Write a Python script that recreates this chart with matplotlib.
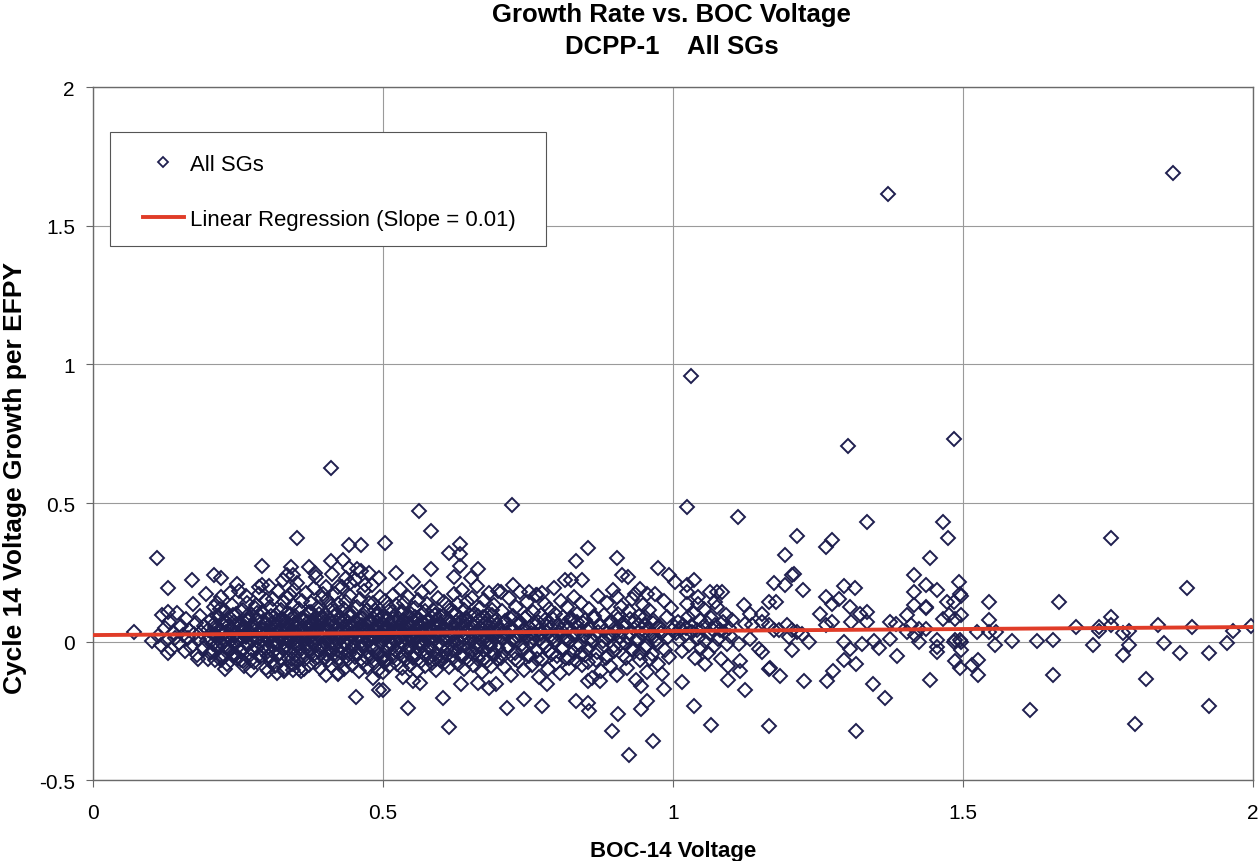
import numpy as np
import matplotlib
matplotlib.use("Agg")
import matplotlib.pyplot as plt
from matplotlib.lines import Line2D
from matplotlib.patches import Rectangle

plt.rcParams['font.family'] = ['Liberation Sans', 'DejaVu Sans']

# ---- data: (BOC-14 voltage, cycle 14 growth per EFPY) ----
# sparse left tail
seg_010_020 = [
    (0.112, 0.021), (0.118, -0.012), (0.124, 0.048), (0.127, 0.006), (0.131, 0.072), (0.134, -0.028),
    (0.138, 0.031), (0.141, 0.015), (0.145, 0.102), (0.148, -0.005), (0.152, 0.055), (0.155, 0.024),
    (0.158, -0.033), (0.161, 0.081), (0.163, 0.012), (0.166, 0.044), (0.169, -0.018), (0.172, 0.137),
    (0.174, 0.028), (0.177, 0.066), (0.179, -0.047), (0.182, 0.009), (0.185, 0.094), (0.187, 0.036),
    (0.189, -0.022), (0.192, 0.058), (0.194, 0.171), (0.196, 0.003), (0.198, 0.041), (0.199, -0.061),
]
seg_020_030 = [
    (0.201, 0.012), (0.202, -0.041), (0.204, 0.078), (0.205, 0.031), (0.207, -0.008), (0.208, 0.124),
    (0.210, 0.052), (0.211, -0.066), (0.213, 0.019), (0.214, 0.093), (0.216, -0.022), (0.217, 0.044),
    (0.219, 0.004), (0.220, 0.161), (0.222, -0.053), (0.223, 0.068), (0.225, 0.027), (0.226, -0.014),
    (0.228, 0.109), (0.229, 0.036), (0.231, -0.079), (0.232, 0.057), (0.234, 0.015), (0.235, 0.088),
    (0.237, -0.031), (0.238, 0.042), (0.240, 0.133), (0.241, -0.004), (0.243, 0.071), (0.244, 0.023),
    (0.246, -0.058), (0.247, 0.099), (0.249, 0.048), (0.250, -0.019), (0.252, 0.184), (0.253, 0.009),
    (0.255, 0.062), (0.256, -0.037), (0.258, 0.115), (0.259, 0.034), (0.261, -0.087), (0.262, 0.053),
    (0.264, 0.017), (0.265, 0.141), (0.267, -0.011), (0.268, 0.076), (0.270, 0.029), (0.271, -0.048),
    (0.273, 0.096), (0.274, 0.006), (0.276, 0.058), (0.277, -0.072), (0.279, 0.122), (0.280, 0.038),
    (0.282, -0.024), (0.283, 0.083), (0.285, 0.013), (0.286, 0.172), (0.288, -0.056), (0.289, 0.047),
    (0.291, 0.001), (0.292, 0.107), (0.294, -0.033), (0.295, 0.064), (0.297, 0.025), (0.298, -0.095),
    (0.299, 0.151), (0.213, 0.139), (0.227, -0.097), (0.248, 0.208), (0.263, 0.164), (0.287, 0.198),
    (0.236, 0.176), (0.272, -0.103), (0.219, 0.117), (0.258, -0.068), (0.281, 0.131), (0.242, -0.044),
    (0.266, 0.092), (0.293, 0.041),
]
seg_030_040 = [
    (0.300, 0.034), (0.301, -0.052), (0.302, 0.087), (0.303, 0.011), (0.304, -0.018), (0.305, 0.126),
    (0.306, 0.049), (0.307, -0.074), (0.308, 0.022), (0.309, 0.069), (0.310, -0.036), (0.311, 0.155),
    (0.312, 0.003), (0.313, 0.041), (0.314, -0.089), (0.315, 0.098), (0.316, 0.027), (0.317, -0.007),
    (0.318, 0.061), (0.319, 0.182), (0.320, -0.045), (0.321, 0.014), (0.322, 0.079), (0.323, -0.063),
    (0.324, 0.037), (0.325, 0.113), (0.326, 0.006), (0.327, -0.026), (0.328, 0.054), (0.329, 0.143),
    (0.330, -0.098), (0.331, 0.031), (0.332, 0.072), (0.333, -0.013), (0.334, 0.019), (0.335, 0.104),
    (0.336, -0.057), (0.337, 0.046), (0.338, 0.008), (0.339, 0.167), (0.340, -0.031), (0.341, 0.083),
    (0.342, 0.024), (0.343, -0.081), (0.344, 0.059), (0.345, 0.132), (0.346, -0.004), (0.347, 0.039),
    (0.348, -0.047), (0.349, 0.091), (0.350, 0.016), (0.351, 0.211), (0.352, -0.069), (0.353, 0.066),
    (0.354, 0.002), (0.355, 0.119), (0.356, -0.022), (0.357, 0.044), (0.358, 0.081), (0.359, -0.104),
    (0.360, 0.029), (0.361, 0.148), (0.362, -0.038), (0.363, 0.057), (0.364, 0.012), (0.365, 0.094),
    (0.366, -0.061), (0.367, 0.035), (0.368, 0.176), (0.369, -0.009), (0.370, 0.071), (0.371, 0.021),
    (0.372, -0.084), (0.373, 0.108), (0.374, 0.047), (0.375, -0.027), (0.376, 0.138), (0.377, 0.005),
    (0.378, 0.063), (0.379, -0.049), (0.380, 0.026), (0.381, 0.192), (0.382, -0.016), (0.383, 0.086),
    (0.384, 0.038), (0.385, -0.073), (0.386, 0.121), (0.387, 0.009), (0.388, 0.052), (0.389, -0.035),
    (0.390, 0.101), (0.391, 0.018), (0.392, -0.093), (0.393, 0.074), (0.394, 0.033), (0.395, 0.159),
    (0.396, -0.012), (0.397, 0.048), (0.398, -0.058), (0.399, 0.085), (0.304, 0.201), (0.327, 0.224),
    (0.318, -0.112), (0.346, 0.186), (0.363, -0.097), (0.385, 0.234), (0.397, 0.171), (0.334, 0.158),
]
seg_040_050 = [
    (0.400, 0.023), (0.401, -0.044), (0.402, 0.096), (0.403, 0.007), (0.404, 0.151), (0.405, -0.067),
    (0.406, 0.041), (0.407, 0.013), (0.408, -0.021), (0.409, 0.078), (0.410, 0.128), (0.411, -0.086),
    (0.412, 0.032), (0.413, 0.058), (0.414, -0.003), (0.415, 0.109), (0.416, 0.019), (0.417, -0.051),
    (0.418, 0.173), (0.419, 0.044), (0.420, -0.029), (0.421, 0.067), (0.422, 0.004), (0.423, 0.136),
    (0.424, -0.076), (0.425, 0.036), (0.426, 0.089), (0.427, -0.014), (0.428, 0.015), (0.429, 0.196),
    (0.430, -0.042), (0.431, 0.053), (0.432, 0.117), (0.433, -0.099), (0.434, 0.027), (0.435, 0.075),
    (0.436, -0.008), (0.437, 0.144), (0.438, 0.039), (0.439, -0.061), (0.440, 0.009), (0.441, 0.092),
    (0.442, -0.033), (0.443, 0.062), (0.444, 0.166), (0.445, 0.021), (0.446, -0.085), (0.447, 0.049),
    (0.448, 0.102), (0.449, -0.017), (0.450, 0.031), (0.451, 0.221), (0.452, -0.054), (0.453, 0.071),
    (0.454, 0.011), (0.455, 0.125), (0.456, -0.039), (0.457, 0.046), (0.458, -0.107), (0.459, 0.083),
    (0.460, 0.017), (0.461, 0.154), (0.462, -0.026), (0.463, 0.059), (0.464, 0.002), (0.465, 0.097),
    (0.466, -0.071), (0.467, 0.034), (0.468, 0.182), (0.469, -0.011), (0.470, 0.065), (0.471, 0.025),
    (0.472, -0.091), (0.473, 0.113), (0.474, 0.043), (0.475, -0.036), (0.476, 0.139), (0.477, 0.008),
    (0.478, 0.069), (0.479, -0.056), (0.480, 0.029), (0.481, 0.205), (0.482, -0.019), (0.483, 0.087),
    (0.484, 0.037), (0.485, -0.078), (0.486, 0.116), (0.487, 0.012), (0.488, 0.055), (0.489, -0.041),
    (0.490, 0.099), (0.491, 0.022), (0.492, -0.102), (0.493, 0.077), (0.494, 0.028), (0.495, 0.163),
    (0.496, -0.006), (0.497, 0.051), (0.498, -0.063), (0.499, 0.089), (0.412, 0.243), (0.437, 0.231),
    (0.456, 0.262), (0.423, -0.118), (0.476, 0.248), (0.494, 0.229), (0.443, 0.212),
]
seg_050_060 = [
    (0.500, 0.026), (0.501, -0.048), (0.502, 0.091), (0.503, 0.009), (0.504, 0.147), (0.505, -0.071),
    (0.506, 0.043), (0.507, 0.016), (0.508, -0.023), (0.509, 0.081), (0.510, 0.124), (0.511, -0.089),
    (0.512, 0.035), (0.513, 0.061), (0.514, -0.005), (0.515, 0.106), (0.516, 0.021), (0.517, -0.054),
    (0.518, 0.168), (0.519, 0.047), (0.520, -0.031), (0.521, 0.069), (0.522, 0.003), (0.523, 0.133),
    (0.524, -0.079), (0.525, 0.038), (0.526, 0.085), (0.527, -0.016), (0.528, 0.014), (0.529, 0.191),
    (0.530, -0.045), (0.531, 0.056), (0.532, 0.112), (0.533, -0.096), (0.534, 0.029), (0.535, 0.073),
    (0.536, -0.009), (0.537, 0.141), (0.538, 0.041), (0.539, -0.064), (0.540, 0.011), (0.541, 0.094),
    (0.542, -0.035), (0.543, 0.064), (0.544, 0.161), (0.545, 0.024), (0.546, -0.083), (0.547, 0.051),
    (0.548, 0.099), (0.549, -0.018), (0.550, 0.033), (0.551, 0.215), (0.552, -0.057), (0.553, 0.074),
    (0.554, 0.013), (0.555, 0.121), (0.556, -0.041), (0.557, 0.049), (0.558, -0.105), (0.559, 0.086),
    (0.560, 0.018), (0.561, 0.151), (0.562, -0.028), (0.563, 0.061), (0.564, 0.001), (0.565, 0.095),
    (0.566, -0.068), (0.567, 0.036), (0.568, 0.178), (0.569, -0.012), (0.570, 0.067), (0.571, 0.027),
    (0.572, -0.087), (0.573, 0.111), (0.574, 0.045), (0.575, -0.038), (0.576, 0.136), (0.577, 0.007),
    (0.578, 0.071), (0.579, -0.059), (0.580, 0.031), (0.581, 0.198), (0.582, -0.021), (0.583, 0.088),
    (0.584, 0.039), (0.585, -0.076), (0.586, 0.114), (0.587, 0.014), (0.588, 0.057), (0.589, -0.043),
    (0.590, 0.097), (0.591, 0.024), (0.592, -0.101), (0.593, 0.079), (0.594, 0.031), (0.595, 0.157),
    (0.596, -0.007), (0.597, 0.053), (0.598, -0.066), (0.599, 0.091),
]
seg_060_070 = [
    (0.601, 0.028), (0.602, -0.051), (0.603, 0.093), (0.604, 0.011), (0.606, 0.142), (0.607, -0.074),
    (0.608, 0.045), (0.609, 0.018), (0.610, -0.026), (0.612, 0.083), (0.613, 0.127), (0.614, -0.092),
    (0.615, 0.037), (0.616, 0.063), (0.618, -0.007), (0.619, 0.108), (0.620, 0.023), (0.621, -0.057),
    (0.622, 0.171), (0.624, 0.049), (0.625, -0.034), (0.626, 0.071), (0.627, 0.005), (0.628, 0.135),
    (0.630, -0.082), (0.631, 0.040), (0.632, 0.087), (0.633, -0.019), (0.634, 0.016), (0.636, 0.188),
    (0.637, -0.047), (0.638, 0.058), (0.639, 0.114), (0.640, -0.099), (0.642, 0.031), (0.643, 0.075),
    (0.644, -0.011), (0.645, 0.144), (0.646, 0.043), (0.648, -0.067), (0.649, 0.013), (0.650, 0.096),
    (0.651, -0.037), (0.652, 0.066), (0.654, 0.158), (0.655, 0.026), (0.656, -0.085), (0.657, 0.053),
    (0.658, 0.101), (0.660, -0.021), (0.661, 0.035), (0.662, 0.202), (0.663, -0.061), (0.664, 0.076),
    (0.666, 0.015), (0.667, 0.123), (0.668, -0.043), (0.669, 0.051), (0.670, -0.109), (0.672, 0.088),
    (0.673, 0.020), (0.674, 0.149), (0.675, -0.031), (0.676, 0.063), (0.678, 0.003), (0.679, 0.097),
    (0.680, -0.071), (0.681, 0.038), (0.682, 0.175), (0.684, -0.014), (0.685, 0.069), (0.686, 0.029),
    (0.687, -0.089), (0.688, 0.113), (0.690, 0.047), (0.691, -0.041), (0.692, 0.131), (0.693, 0.009),
    (0.694, 0.073), (0.696, -0.062), (0.697, 0.033), (0.698, 0.184), (0.699, -0.024),
]
seg_070_085 = [
    (0.701, 0.041), (0.703, -0.058), (0.705, 0.112), (0.707, 0.014), (0.709, -0.091), (0.711, 0.076),
    (0.713, 0.031), (0.715, -0.024), (0.717, 0.158), (0.719, 0.052), (0.721, -0.119), (0.723, 0.006),
    (0.725, 0.093), (0.727, -0.042), (0.729, 0.127), (0.731, 0.022), (0.733, -0.071), (0.735, 0.064),
    (0.737, 0.181), (0.739, -0.009), (0.741, 0.037), (0.743, -0.103), (0.745, 0.084), (0.747, 0.017),
    (0.749, 0.143), (0.751, -0.052), (0.753, 0.048), (0.755, 0.001), (0.757, -0.084), (0.759, 0.106),
    (0.761, 0.029), (0.763, 0.169), (0.765, -0.033), (0.767, 0.072), (0.769, -0.127), (0.771, 0.011),
    (0.773, 0.095), (0.775, -0.064), (0.777, 0.043), (0.779, 0.136), (0.781, -0.017), (0.783, 0.057),
    (0.785, -0.098), (0.787, 0.119), (0.789, 0.024), (0.791, -0.046), (0.793, 0.082), (0.795, 0.194),
    (0.797, 0.008), (0.799, -0.077), (0.801, 0.061), (0.803, 0.034), (0.805, -0.111), (0.807, 0.148),
    (0.809, -0.028), (0.811, 0.089), (0.813, 0.015), (0.815, -0.059), (0.817, 0.124), (0.819, 0.046),
    (0.821, -0.093), (0.823, 0.004), (0.825, 0.078), (0.827, -0.038), (0.829, 0.163), (0.831, 0.027),
    (0.833, -0.069), (0.835, 0.101), (0.837, 0.053), (0.839, -0.012), (0.841, 0.139), (0.843, -0.085),
    (0.845, 0.068), (0.847, 0.019), (0.849, -0.047),
]
seg_085_100 = [
    (0.851, 0.044), (0.854, -0.072), (0.856, 0.118), (0.859, 0.012), (0.861, -0.131), (0.864, 0.087),
    (0.866, 0.028), (0.869, -0.036), (0.871, 0.164), (0.874, 0.056), (0.876, -0.104), (0.879, 0.003),
    (0.881, 0.097), (0.884, -0.058), (0.886, 0.141), (0.889, 0.021), (0.891, -0.087), (0.894, 0.069),
    (0.896, 0.186), (0.899, -0.015), (0.901, 0.039), (0.904, -0.121), (0.906, 0.081), (0.909, 0.016),
    (0.911, 0.127), (0.914, -0.049), (0.916, 0.052), (0.919, -0.007), (0.921, -0.094), (0.924, 0.109),
    (0.926, 0.033), (0.929, 0.154), (0.931, -0.029), (0.934, 0.074), (0.936, -0.138), (0.939, 0.009),
    (0.941, 0.092), (0.944, -0.067), (0.946, 0.047), (0.949, 0.133), (0.951, -0.021), (0.954, 0.061),
    (0.956, -0.109), (0.959, 0.115), (0.961, 0.025), (0.964, -0.043), (0.966, 0.079), (0.969, 0.171),
    (0.971, 0.006), (0.974, -0.081), (0.976, 0.057), (0.979, 0.031), (0.981, -0.117), (0.984, 0.146),
    (0.986, -0.031), (0.989, 0.088), (0.991, 0.017), (0.994, -0.054), (0.996, 0.121), (0.999, 0.041),
]
seg_100_110 = [
    (1.003, 0.052), (1.006, 0.031), (1.008, 0.071), (1.011, 0.008), (1.013, 0.045), (1.016, -0.032),
    (1.018, 0.062), (1.021, 0.024), (1.023, 0.049), (1.026, 0.088), (1.028, -0.011), (1.031, 0.057),
    (1.033, 0.036), (1.036, 0.103), (1.038, -0.058), (1.041, 0.041), (1.043, 0.015), (1.046, 0.077),
    (1.048, -0.024), (1.051, 0.053), (1.053, 0.119), (1.056, 0.002), (1.058, 0.066), (1.061, -0.041),
    (1.063, 0.029), (1.066, 0.084), (1.068, 0.047), (1.071, -0.017), (1.073, 0.059), (1.076, 0.126),
    (1.078, 0.011), (1.081, 0.043), (1.083, -0.063), (1.086, 0.072), (1.088, 0.034), (1.091, 0.096),
    (1.093, -0.008), (1.096, 0.051), (1.098, 0.021), (1.101, 0.079),
]
# the darkest band close to the regression line
band_020_045 = [
    (0.202, 0.012), (0.205, -0.038), (0.208, 0.064), (0.211, 0.027), (0.214, -0.011), (0.217, 0.088),
    (0.220, 0.041), (0.223, -0.057), (0.226, 0.003), (0.229, 0.072), (0.232, 0.019), (0.235, -0.026),
    (0.238, 0.051), (0.241, 0.096), (0.244, -0.044), (0.247, 0.033), (0.250, 0.008), (0.253, 0.061),
    (0.256, -0.065), (0.259, 0.044), (0.262, 0.022), (0.265, -0.004), (0.268, 0.079), (0.271, 0.036),
    (0.274, -0.031), (0.277, 0.057), (0.280, 0.014), (0.283, 0.104), (0.286, -0.049), (0.289, 0.029),
    (0.292, 0.047), (0.295, -0.019), (0.298, 0.068), (0.301, 0.005), (0.304, -0.053), (0.307, 0.091),
    (0.310, 0.025), (0.313, -0.008), (0.316, 0.074), (0.319, 0.038), (0.322, -0.041), (0.325, 0.016),
    (0.328, 0.083), (0.331, -0.022), (0.334, 0.054), (0.337, 0.001), (0.340, 0.099), (0.343, -0.061),
    (0.346, 0.031), (0.349, 0.066), (0.352, -0.015), (0.355, 0.043), (0.358, 0.009), (0.361, -0.047),
    (0.364, 0.077), (0.367, 0.021), (0.370, -0.029), (0.373, 0.058), (0.376, 0.107), (0.379, -0.006),
    (0.382, 0.035), (0.385, 0.069), (0.388, -0.054), (0.391, 0.013), (0.394, 0.087), (0.397, -0.024),
    (0.400, 0.049), (0.403, 0.002), (0.406, 0.063), (0.409, -0.037), (0.412, 0.024), (0.415, 0.094),
    (0.418, -0.013), (0.421, 0.046), (0.424, -0.058), (0.427, 0.071), (0.430, 0.018), (0.433, -0.003),
    (0.436, 0.055), (0.439, 0.101), (0.442, -0.045), (0.445, 0.028), (0.448, 0.062), (0.449, -0.019),
]
band_045_070 = [
    (0.451, 0.015), (0.454, -0.042), (0.457, 0.067), (0.460, 0.024), (0.463, -0.014), (0.466, 0.085),
    (0.469, 0.039), (0.472, -0.059), (0.475, 0.006), (0.478, 0.075), (0.481, 0.021), (0.484, -0.028),
    (0.487, 0.048), (0.490, 0.093), (0.493, -0.046), (0.496, 0.031), (0.499, 0.011), (0.502, 0.059),
    (0.505, -0.062), (0.508, 0.042), (0.511, 0.025), (0.514, -0.007), (0.517, 0.081), (0.520, 0.034),
    (0.523, -0.033), (0.526, 0.053), (0.529, 0.017), (0.532, 0.102), (0.535, -0.051), (0.538, 0.027),
    (0.541, 0.045), (0.544, -0.021), (0.547, 0.065), (0.550, 0.007), (0.553, -0.055), (0.556, 0.089),
    (0.559, 0.023), (0.562, -0.009), (0.565, 0.072), (0.568, 0.037), (0.571, -0.043), (0.574, 0.018),
    (0.577, 0.079), (0.580, -0.024), (0.583, 0.051), (0.586, 0.003), (0.589, 0.097), (0.592, -0.063),
    (0.595, 0.033), (0.598, 0.063), (0.601, -0.017), (0.604, 0.041), (0.607, 0.011), (0.610, -0.049),
    (0.613, 0.074), (0.616, 0.022), (0.619, -0.031), (0.622, 0.056), (0.625, 0.104), (0.628, -0.008),
    (0.631, 0.037), (0.634, 0.066), (0.637, -0.056), (0.640, 0.015), (0.643, 0.084), (0.646, -0.026),
    (0.649, 0.047), (0.652, 0.004), (0.655, 0.061), (0.658, -0.039), (0.661, 0.026), (0.664, 0.091),
    (0.667, -0.015), (0.670, 0.044), (0.673, -0.061), (0.676, 0.069), (0.679, 0.019), (0.682, -0.005),
    (0.685, 0.053), (0.688, 0.098), (0.691, -0.047), (0.694, 0.029), (0.697, 0.059),
]
band_070_098 = [
    (0.702, 0.017), (0.706, -0.044), (0.709, 0.069), (0.713, 0.026), (0.716, -0.016), (0.720, 0.083),
    (0.723, 0.037), (0.727, -0.061), (0.730, 0.008), (0.734, 0.073), (0.737, 0.023), (0.741, -0.029),
    (0.744, 0.046), (0.748, 0.091), (0.751, -0.048), (0.755, 0.032), (0.758, 0.012), (0.762, 0.058),
    (0.765, -0.064), (0.769, 0.041), (0.772, 0.027), (0.776, -0.009), (0.779, 0.079), (0.783, 0.035),
    (0.786, -0.034), (0.790, 0.052), (0.793, 0.018), (0.797, 0.099), (0.800, -0.053), (0.804, 0.026),
    (0.807, 0.044), (0.811, -0.023), (0.814, 0.064), (0.818, 0.009), (0.821, -0.057), (0.825, 0.087),
    (0.828, 0.024), (0.832, -0.011), (0.835, 0.071), (0.839, 0.036), (0.842, -0.045), (0.846, 0.019),
    (0.849, 0.077), (0.853, -0.026), (0.856, 0.049), (0.860, 0.004), (0.863, 0.094), (0.867, -0.066),
    (0.870, 0.034), (0.874, 0.061), (0.877, -0.018), (0.881, 0.039), (0.884, 0.013), (0.888, -0.051),
    (0.891, 0.072), (0.895, 0.023), (0.898, -0.033), (0.902, 0.054), (0.905, 0.101), (0.909, -0.009),
    (0.912, 0.036), (0.916, 0.064), (0.919, -0.058), (0.923, 0.016), (0.926, 0.082), (0.930, -0.027),
    (0.933, 0.045), (0.937, 0.005), (0.940, 0.059), (0.944, -0.041), (0.947, 0.027), (0.951, 0.088),
    (0.954, -0.016), (0.958, 0.043), (0.961, -0.063), (0.965, 0.067), (0.968, 0.021), (0.972, -0.006),
    (0.975, 0.052), (0.979, 0.031),
]
# scattered points away from the dense band
outliers_left = [
    (1.370, 1.614), (1.862, 1.690), (1.031, 0.958), (0.411, 0.627), (1.302, 0.706), (1.484, 0.731),
    (0.722, 0.494), (1.024, 0.486), (1.112, 0.450), (0.562, 0.471), (0.582, 0.400), (0.503, 0.356),
    (0.853, 0.337), (0.833, 0.292), (0.903, 0.301), (0.974, 0.265), (0.613, 0.321), (0.633, 0.351),
    (0.633, 0.317), (0.663, 0.263), (0.582, 0.263), (0.633, 0.272), (0.622, 0.233), (0.652, 0.229),
    (0.522, 0.247), (0.994, 0.240), (1.004, 0.214), (0.813, 0.221), (0.824, 0.221), (0.844, 0.221),
    (0.912, 0.239), (0.923, 0.235), (0.724, 0.205), (0.703, 0.179), (0.752, 0.179), (0.766, 0.170),
    (0.774, 0.175), (0.943, 0.191), (0.955, 0.173), (0.935, 0.173), (0.903, 0.161),
    (0.543, -0.239), (0.614, -0.309), (0.604, -0.202), (0.714, -0.238), (0.744, -0.208), (0.774, -0.232),
    (0.634, -0.154), (0.683, -0.167), (0.695, -0.154), (0.664, -0.148), (0.783, -0.154), (0.833, -0.214),
    (0.854, -0.220), (0.855, -0.250), (0.854, -0.142), (0.874, -0.142), (0.895, -0.323), (0.905, -0.259),
    (0.925, -0.410), (0.966, -0.359), (0.945, -0.241), (0.956, -0.215), (0.945, -0.160), (0.985, -0.172),
    (0.564, -0.148), (0.552, -0.142), (0.535, -0.127), (0.500, -0.173),
    (0.352, 0.375), (0.111, 0.303), (0.130, 0.195), (0.070, 0.035), (0.101, 0.001), (0.130, -0.041),
    (0.441, 0.347), (0.462, 0.347), (0.411, 0.291), (0.431, 0.293), (0.441, 0.267), (0.462, 0.255),
    (0.291, 0.273), (0.342, 0.269), (0.372, 0.269), (0.382, 0.247), (0.170, 0.224), (0.209, 0.239),
    (0.221, 0.231), (0.334, 0.239), (0.345, 0.239), (0.291, 0.205), (0.130, 0.107), (0.119, 0.095),
    (0.302, -0.107), (0.330, -0.107), (0.344, -0.103), (0.356, -0.097), (0.402, -0.121), (0.423, -0.112),
    (0.453, -0.199), (0.493, -0.173), (0.181, -0.061), (0.221, -0.067), (0.244, -0.049), (0.272, -0.067),
    (0.483, -0.130), (0.500, -0.109), (0.402, 0.197), (0.423, 0.197), (0.469, 0.203), (0.483, 0.140),
]
outliers_mid = [
    (1.335, 0.431), (1.465, 0.431), (1.474, 0.374), (1.214, 0.380), (1.263, 0.341), (1.275, 0.365),
    (1.194, 0.313), (1.444, 0.301), (1.206, 0.239), (1.209, 0.245), (1.175, 0.213), (1.194, 0.203),
    (1.224, 0.185), (1.295, 0.200), (1.314, 0.193), (1.416, 0.242), (1.436, 0.206), (1.456, 0.187),
    (1.493, 0.215), (1.416, 0.179), (1.416, 0.133), (1.436, 0.121), (1.024, 0.203), (1.036, 0.221),
    (1.024, 0.179), (1.064, 0.179), (1.076, 0.179), (1.085, 0.179), (1.044, 0.161), (1.044, 0.137),
    (1.073, 0.143), (1.024, 0.136), (1.122, 0.131), (1.133, 0.101), (1.154, 0.101), (1.165, 0.143),
    (1.177, 0.143), (1.263, 0.161), (1.275, 0.137), (1.286, 0.155), (1.254, 0.101), (1.263, 0.059),
    (1.275, 0.071), (1.305, 0.125), (1.323, 0.101), (1.335, 0.107), (1.307, 0.071), (1.335, 0.071),
    (1.036, -0.232), (1.066, -0.301), (1.165, -0.305), (1.315, -0.322), (1.365, -0.202), (1.345, -0.151),
    (1.444, -0.137), (1.125, -0.173), (1.095, -0.137), (1.016, -0.145), (1.226, -0.143), (1.265, -0.143),
    (1.276, -0.107), (1.185, -0.124), (1.165, -0.097), (1.168, -0.094), (1.115, -0.071), (1.115, -0.107),
    (1.095, -0.089), (1.055, -0.079), (1.295, -0.065), (1.315, -0.079), (1.386, -0.052), (1.486, -0.071),
    (1.495, -0.095), (1.456, -0.037), (1.456, -0.019),
    (1.125, 0.065), (1.136, 0.059), (1.154, 0.071), (1.114, -0.007), (1.133, 0.011), (1.148, -0.025),
    (1.154, -0.037), (1.165, 0.059), (1.174, 0.041), (1.183, 0.041), (1.197, 0.059), (1.206, 0.041),
    (1.200, 0.017), (1.214, 0.035), (1.206, -0.031), (1.223, 0.029), (1.234, -0.001), (1.295, -0.001),
    (1.306, -0.025), (1.326, -0.007), (1.346, 0.001), (1.356, -0.023), (1.375, 0.071), (1.384, 0.065),
    (1.375, 0.011), (1.404, 0.095), (1.410, 0.059), (1.404, 0.035), (1.424, 0.047), (1.436, 0.047),
    (1.436, 0.125), (1.418, 0.023), (1.424, -0.001), (1.456, 0.006), (1.465, 0.083), (1.476, 0.095),
    (1.487, 0.083), (1.495, 0.173), (1.485, 0.143), (1.473, 0.143), (1.486, 0.006), (1.495, 0.006),
]
outliers_right = [
    (1.755, 0.375), (1.886, 0.195), (1.665, 0.145), (1.545, 0.145), (1.545, 0.080), (1.496, 0.165),
    (1.496, 0.095), (1.695, 0.053), (1.735, 0.053), (1.735, 0.037), (1.755, 0.089), (1.755, 0.059),
    (1.776, 0.031), (1.787, 0.037), (1.836, 0.061), (1.895, 0.053), (1.965, 0.037), (1.996, 0.055),
    (1.525, 0.035), (1.545, 0.035), (1.557, 0.035), (1.555, -0.013), (1.585, 0.001), (1.627, 0.001),
    (1.656, 0.007), (1.725, -0.011), (1.787, -0.011), (1.776, -0.047), (1.846, -0.005), (1.875, -0.040),
    (1.925, -0.040), (1.956, -0.005), (1.656, -0.121), (1.816, -0.134), (1.615, -0.247), (1.797, -0.297),
    (1.925, -0.233), (1.516, -0.085), (1.526, -0.121), (1.526, -0.065), (1.485, -0.001), (1.496, -0.001),
    (1.496, -0.031),
]

reg_intercept = 0.024
reg_slope = 0.0145
reg_x = [0.0, 2.0]

x_ticks = [0, 0.5, 1, 1.5, 2]
y_ticks = [-0.5, 0, 0.5, 1, 1.5, 2]
x_tick_labels = ['0', '0.5', '1', '1.5', '2']
y_tick_labels = ['-0.5', '0', '0.5', '1', '1.5', '2']

all_pts = np.array(seg_010_020 + seg_020_030 + seg_030_040 + seg_040_050 + seg_050_060
                   + seg_060_070 + seg_070_085 + seg_085_100 + seg_100_110
                   + band_020_045 + band_045_070 + band_070_098
                   + outliers_left + outliers_mid + outliers_right)

navy = '#1f1f4f'
red = '#e03c28'

fig = plt.figure(figsize=(12.6, 8.62), dpi=100)
ax = fig.add_axes([0.0738, 0.0935, 0.9206, 0.8044])

ax.plot(all_pts[:, 0], all_pts[:, 1], linestyle='none', marker='D', ms=7.0,
        mfc='none', mec=navy, mew=1.4, zorder=3)
reg_y = [reg_intercept + reg_slope * v for v in reg_x]
ax.plot(reg_x, reg_y, color=red, lw=2.8, zorder=4)

ax.set_xlim(0, 2)
ax.set_ylim(-0.5, 2)
ax.set_xticks(x_ticks)
ax.set_xticklabels(x_tick_labels)
ax.set_yticks(y_ticks)
ax.set_yticklabels(y_tick_labels)
ax.tick_params(axis='both', labelsize=15, direction='out', length=5, width=0.8, color='#666666')
ax.tick_params(axis='x', pad=11)
ax.tick_params(axis='y', pad=8)
ax.grid(True, color='#9a9a9a', lw=0.8)
ax.set_axisbelow(True)
for sp in ax.spines.values():
    sp.set_color('#6a6a6a')
    sp.set_linewidth(1.0)

# legend box drawn separately so its padding can match the original
ax.add_patch(Rectangle((0.0147, 0.7707), 0.3758, 0.1644, transform=ax.transAxes,
                       facecolor='white', edgecolor='#555555', lw=0.8, zorder=6))
handles = [
    Line2D([], [], linestyle='none', marker='D', ms=5.2, mfc='none', mec=navy, mew=1.3),
    Line2D([], [], color=red, lw=2.8),
]
leg = ax.legend(handles, ['All SGs', 'Linear Regression (Slope = 0.01)'],
                loc='upper left', bbox_to_anchor=(0.0431, 0.9034), borderaxespad=0,
                fontsize=15.9, frameon=False, borderpad=0, labelspacing=1.53,
                handlelength=1.85, handletextpad=0.3)
leg.set_zorder(7)

fig.text(0.533, 1 - 15 / 862, 'Growth Rate vs. BOC Voltage', ha='center', va='center',
         fontsize=18.5, fontweight='bold')
fig.text(0.533, 1 - 47 / 862, 'DCPP-1    All SGs', ha='center', va='center',
         fontsize=18.5, fontweight='bold')
fig.text(673 / 1260, 1 - 852 / 862, 'BOC-14 Voltage', ha='center', va='center',
         fontsize=16, fontweight='bold')
fig.text(15 / 1260, 1 - 478 / 862, 'Cycle 14 Voltage Growth per EFPY', ha='center', va='center',
         rotation=90, fontsize=19, fontweight='bold')

fig.savefig('out.png', dpi=100)
